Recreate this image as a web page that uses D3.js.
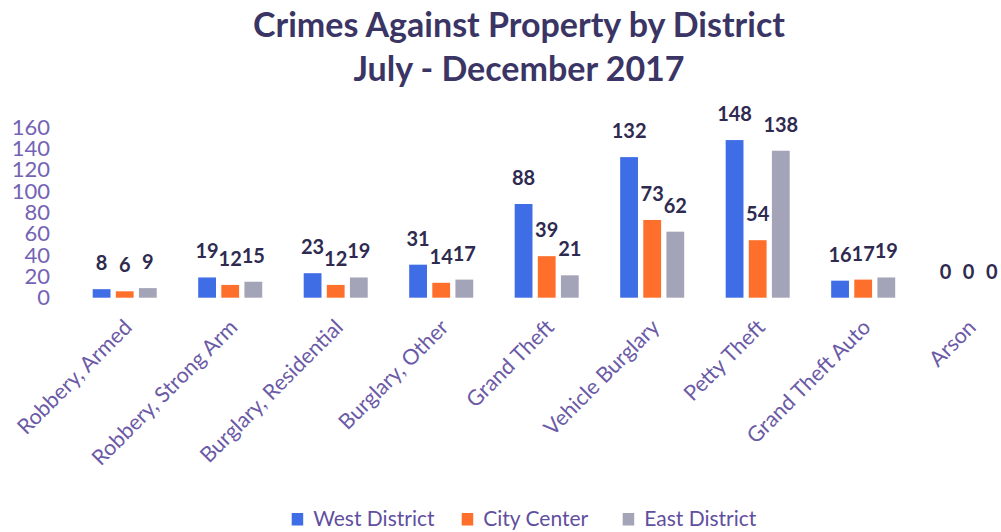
<!DOCTYPE html>
<html>
<head>
<meta charset="utf-8">
<script src="https://cdn.jsdelivr.net/npm/d3@7"></script>
<style>
  html, body { margin: 0; padding: 0; background: #fff; }
  svg { display: block; }
  text { font-family: Lato, "Open Sans", sans-serif; }
</style>
</head>
<body>
<svg id="chart" width="1001" height="532"></svg>
<script>
// Crime categories along the x axis
const categories = [
  "Robbery, Armed", "Robbery, Strong Arm", "Burglary, Residential",
  "Burglary, Other", "Grand Theft", "Vehicle Burglary",
  "Petty Theft", "Grand Theft Auto", "Arson"
];
// Counts per district, July - December 2017
const westDistrict = [8, 19, 23, 31, 88, 132, 148, 16, 0];
const cityCenter   = [6, 12, 12, 14, 39, 73, 54, 17, 0];
const eastDistrict = [9, 15, 19, 17, 21, 62, 138, 19, 0];
const seriesNames  = ["West District", "City Center", "East District"];
const yTicks       = [0, 20, 40, 60, 80, 100, 120, 140, 160];
const titleLines   = ["Crimes Against Property by District", "July - December 2017"];

const colors = ["#3f6de6", "#ff6f2c", "#a4a4b8"];
const series = [westDistrict, cityCenter, eastDistrict];

const svg = d3.select("#chart");

const x0 = d3.scaleBand().domain(categories).range([92.7, 1000.7]).paddingInner(0.393).paddingOuter(0);
const x1 = d3.scaleBand().domain(d3.range(series.length)).range([0, x0.bandwidth()]).paddingInner(0.23);
const y = d3.scaleLinear().domain([0, 160]).range([297.7, 127.3]);

// Title
svg.append("g").selectAll("text").data(titleLines).join("text")
  .attr("x", 519).attr("y", (d, i) => 37 + i * 44)
  .attr("text-anchor", "middle")
  .attr("font-size", 34).attr("font-weight", 700)
  .attr("fill", "#3a3564")
  .text(d => d);

// Y axis (labels only)
const yAxis = d3.axisLeft(y).tickValues(yTicks).tickSize(0).tickPadding(0);
const gy = svg.append("g").attr("transform", "translate(50,0)").call(yAxis);
gy.select(".domain").remove();
gy.selectAll("text").attr("font-size", 22).attr("fill", "#7463b4")
  .attr("font-family", "Lato, sans-serif");

// Bars
const groups = svg.append("g").selectAll("g").data(categories).join("g")
  .attr("transform", d => `translate(${x0(d)},0)`);

groups.selectAll("rect")
  .data((d, ci) => series.map((s, si) => ({ si, v: s[ci] })))
  .join("rect")
  .attr("x", d => x1(d.si))
  .attr("width", x1.bandwidth())
  .attr("y", d => y(d.v))
  .attr("height", d => y(0) - y(d.v))
  .attr("fill", d => colors[d.si]);

// Value labels
groups.selectAll("text.val")
  .data((d, ci) => series.map((s, si) => ({ si, v: s[ci] })))
  .join("text")
  .attr("class", "val")
  .attr("x", d => x1(d.si) + x1.bandwidth() / 2)
  .attr("y", d => y(d.v) - 19)
  .attr("text-anchor", "middle")
  .attr("font-size", 20).attr("font-weight", 700)
  .attr("fill", "#2e2a50")
  .text(d => d.v);

// X axis category labels, rotated
const xAxis = d3.axisBottom(x0).tickSize(0).tickPadding(0);
const gx = svg.append("g").attr("transform", "translate(0,318)").call(xAxis);
gx.select(".domain").remove();
gx.selectAll("text")
  .attr("font-size", 21.5).attr("fill", "#6b5aa6")
  .attr("font-family", "Lato, sans-serif")
  .attr("text-anchor", "end")
  .attr("dy", "0.7em")
  .attr("transform", "translate(-2,0) rotate(-45)");

// Legend
const legendX = [291.7, 461.7, 622.7];
const legend = svg.append("g").selectAll("g").data(seriesNames).join("g")
  .attr("transform", (d, i) => `translate(${legendX[i]},513)`);
legend.append("rect").attr("width", 11.5).attr("height", 12.5)
  .attr("fill", (d, i) => colors[i]);
legend.append("text").attr("x", 21.5).attr("y", 12.5)
  .attr("font-size", 21).attr("fill", "#5f4f9e")
  .text(d => d);
</script>
</body>
</html>
